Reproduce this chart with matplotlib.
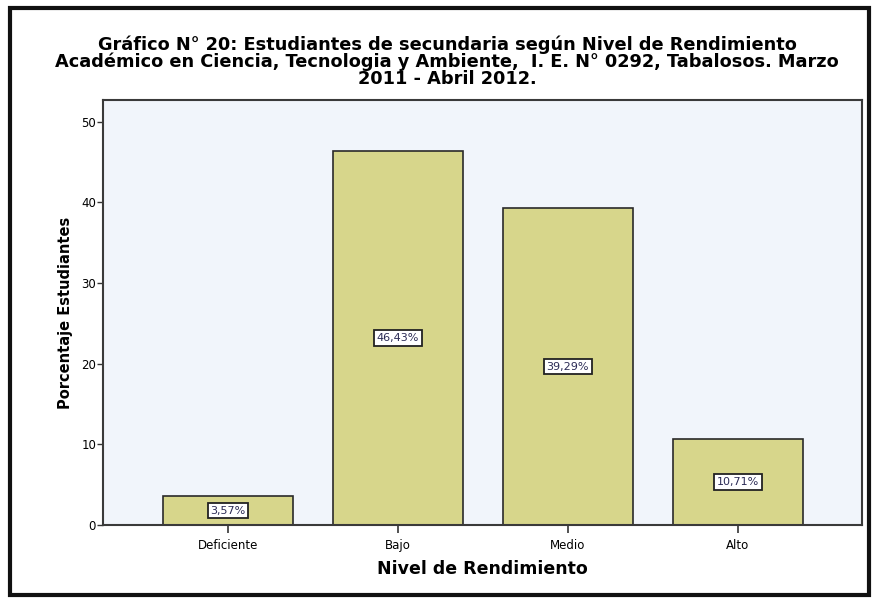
import matplotlib

matplotlib.use("Agg")
import matplotlib.pyplot as plt
from matplotlib.patches import Rectangle

categorias = ["Deficiente", "Bajo", "Medio", "Alto"]
porcentajes = [3.57, 46.43, 39.29, 10.71]
y_ticks = [0, 10, 20, 30, 40, 50]

titulo = ("Gráfico N° 20: Estudiantes de secundaria según Nivel de Rendimiento\n"
          "Académico en Ciencia, Tecnologia y Ambiente,  I. E. N° 0292, Tabalosos. Marzo\n"
          "2011 - Abril 2012.")

plt.rcParams["font.family"] = ["DejaVu Sans"]

fig = plt.figure(figsize=(8.72, 5.99), dpi=100)
ax = fig.add_axes([103 / 872, 1 - 525 / 599, (862 - 103) / 872, (525 - 100) / 599])
ax.set_facecolor("#f1f5fb")

x = list(range(len(categorias)))
ax.bar(x, porcentajes, width=0.765, color="#d7d68b", edgecolor="#2a2a2a", linewidth=1.2, zorder=2)

for xi, v in zip(x, porcentajes):
    etiqueta = f"{v:.2f}%".replace(".", ",")
    ax.text(xi, v / 2, etiqueta, ha="center", va="center", fontsize=8, color="#2b2b55",
            bbox=dict(boxstyle="square,pad=0.25", facecolor="white", edgecolor="#222222", linewidth=1.3),
            zorder=3)

ax.set_xlim(-0.735, 3.73)
ax.set_ylim(0, 52.7)
ax.set_xticks(x)
ax.set_xticklabels(categorias, fontsize=8.5)
ax.set_yticks(y_ticks)
ax.set_yticklabels([str(t) for t in y_ticks], fontsize=8.5)
ax.tick_params(axis="x", length=6, width=1.2, color="#333333", pad=4)
ax.tick_params(axis="y", length=4, width=1.0, color="#333333", pad=1)
for s in ax.spines.values():
    s.set_color("#3a3a3a")
    s.set_linewidth(1.5)

ax.set_xlabel("Nivel de Rendimiento", fontsize=12.5, fontweight="bold", labelpad=6)
ax.set_ylabel("Porcentaje Estudiantes", fontsize=10.5, fontweight="bold", labelpad=6)

fig.text(447 / 872, 1 - 62 / 599, titulo, ha="center", va="center", fontsize=12.8,
         fontweight="bold", linespacing=0.9)

fig.patches.append(Rectangle((10 / 872, 4 / 599), 859 / 872, 587 / 599, transform=fig.transFigure,
                             fill=False, edgecolor="#111111", linewidth=3))

fig.savefig("out.png", dpi=100)
plt.close(fig)
